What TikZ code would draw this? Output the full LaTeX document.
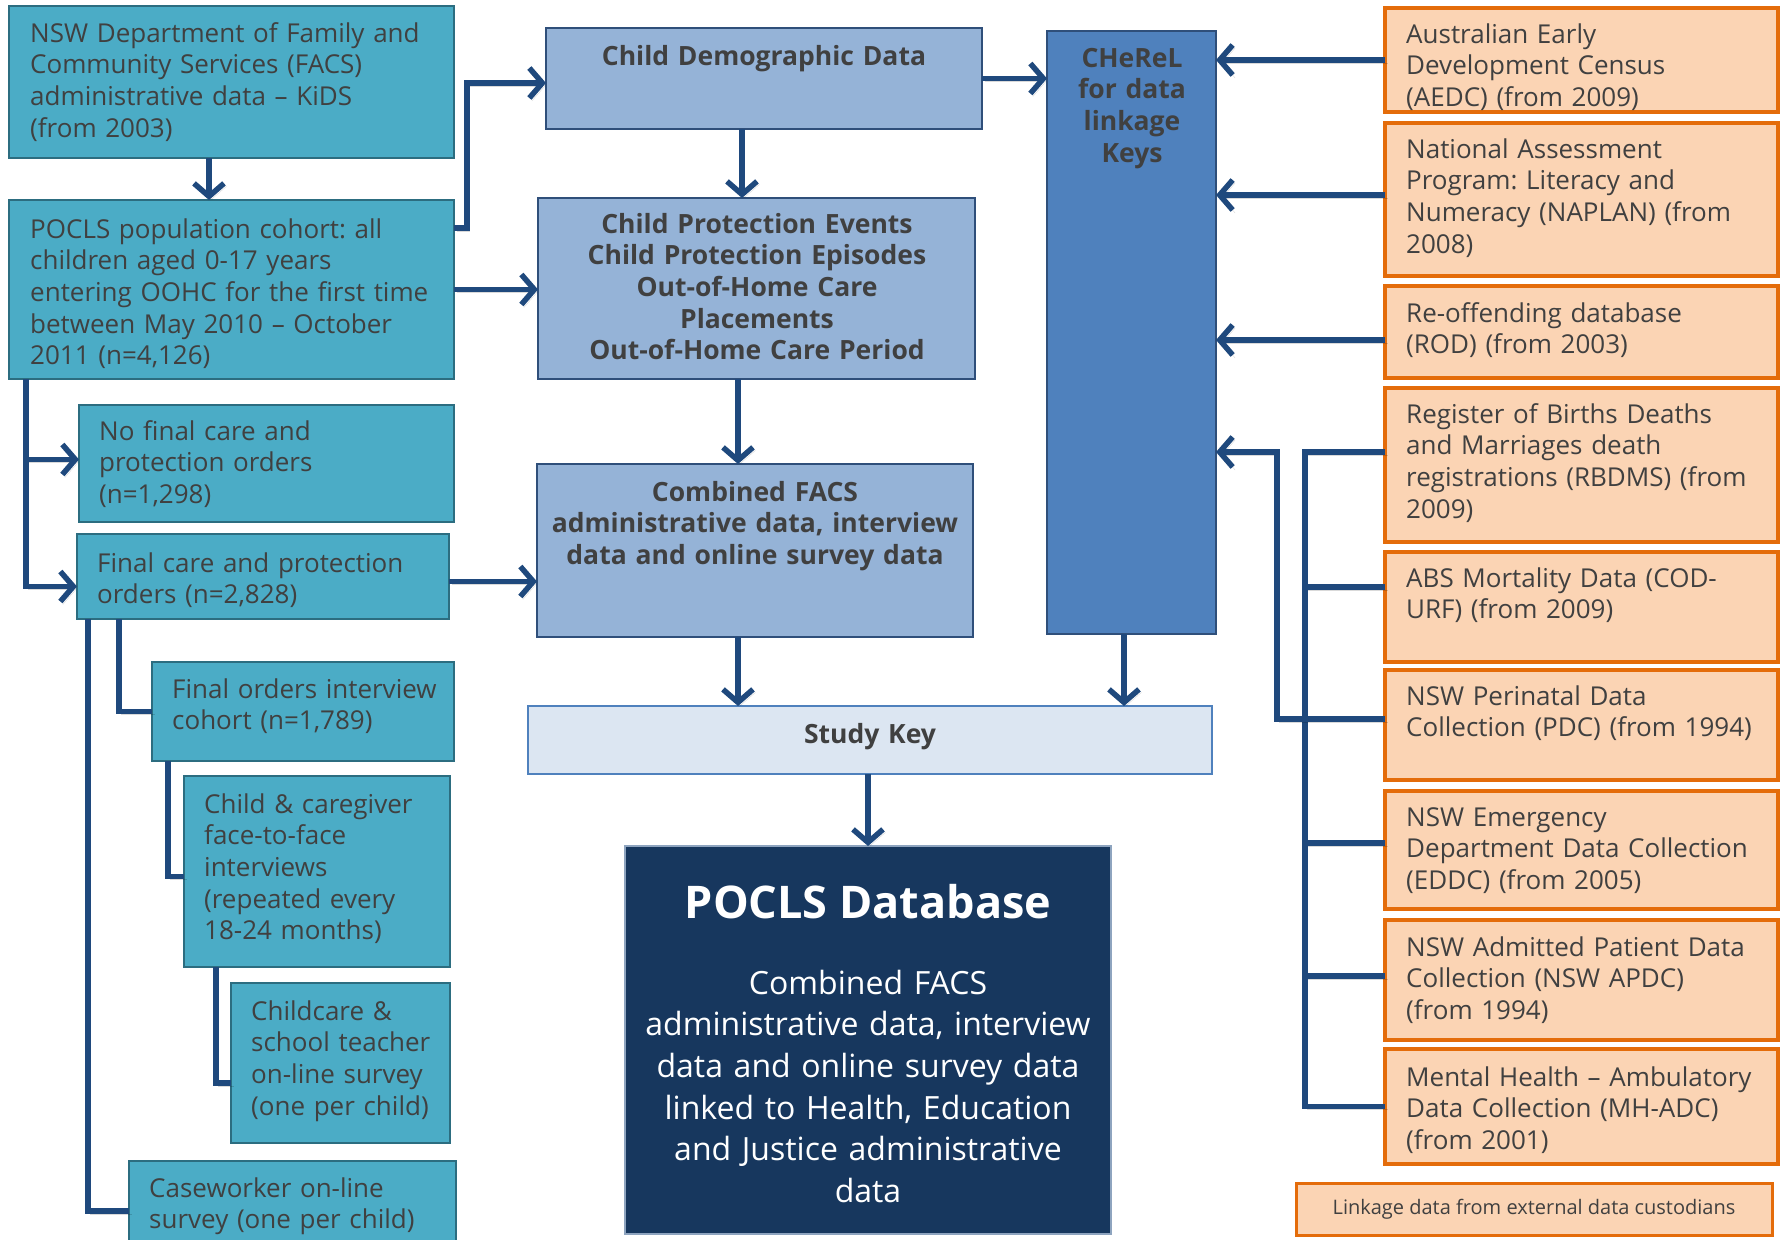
\documentclass[tikz,border=0pt]{standalone}
\usepackage{fontspec}
\setmainfont{Open Sans}
\usetikzlibrary{arrows.meta,fit,calc}
\definecolor{tealF}{HTML}{4BACC6}
\definecolor{tealD}{HTML}{2C6D80}
\definecolor{ltF}{HTML}{95B3D7}
\definecolor{ltD}{HTML}{2F4F7A}
\definecolor{chF}{HTML}{4F81BD}
\definecolor{skF}{HTML}{DCE6F2}
\definecolor{skD}{HTML}{4F81BD}
\definecolor{dbF}{HTML}{17375E}
\definecolor{dbD}{HTML}{8EA4BF}
\definecolor{orF}{HTML}{FBD4B4}
\definecolor{orD}{HTML}{E46C0A}
\definecolor{lineC}{HTML}{1F497D}
\definecolor{txt}{HTML}{404040}
\newcommand\pfbody{\fontsize{26}{31.7}\selectfont\frenchspacing}
\newcommand\pfbold{\fontsize{26.5}{31.7}\selectfont\bfseries\frenchspacing}
\newcommand\pftitle{\fontsize{45}{50}\selectfont\bfseries}
\newcommand\pfdb{\fontsize{32}{41.7}\selectfont\frenchspacing}
\newcommand\pfsmall{\fontsize{20}{24}\selectfont}
\begin{document}
\begin{tikzpicture}[x=1pt,y=-1pt,
  bx/.style={draw, inner sep=0pt, outer sep=0pt, line width=2.5pt},
  tealbox/.style={bx, fill=tealF, draw=tealD},
  ltbox/.style={bx, fill=ltF, draw=ltD},
  chbox/.style={bx, fill=chF, draw=ltD},
  skbox/.style={bx, fill=skF, draw=skD, line width=2pt},
  dbbox/.style={bx, fill=dbF, draw=dbD, line width=1.5pt},
  orbox/.style={bx, fill=orF, draw=orD, line width=3.5pt},
  ltxt/.style={anchor=base west, inner sep=0pt, text width=450pt, align=left, text=txt, font=\pfbody},
  ctxt/.style={anchor=base, inner sep=0pt, text width=440pt, align=center, text=txt, font=\pfbold},
  conn/.style={draw=lineC, line width=5.5pt,
    preaction={draw=black, draw opacity=0.15, transform canvas={xshift=2.5pt,yshift=-3pt}}},
  arr/.style={conn, -{Straight Barb[length=13pt,width=30pt]}}
]
\useasboundingbox (0,0) rectangle (1781,1240);
\clip (0,0) rectangle (1781,1240);
\fill[white] (0,0) rectangle (1781,1240);

% ---------- left column ----------
\node[tealbox, fit={(9,6)(454,158)}] (facs) {};
\node[ltxt] (facsT) at (30,42) {NSW Department of Family and\\Community Services (FACS)\\administrative data – KiDS\\(from 2003)};
\node[tealbox, fit={(9,200)(454,379)}] (cohort) {};
\node[ltxt] (cohortT) at (30,238) {POCLS population cohort: all\\children aged 0-17 years\\entering OOHC for the first time\\between May 2010 – October\\2011 (n=4,126)};
\node[tealbox, fit={(79,405)(454,522)}] (nofinal) {};
\node[ltxt] (nofinalT) at (99,440) {No final care and\\protection orders\\(n=1,298)};
\node[tealbox, fit={(77,534)(449,619)}] (final) {};
\node[ltxt] (finalT) at (97,572) {Final care and protection\\orders (n=2,828)};
\node[tealbox, fit={(152,662)(454,761)}] (fo) {};
\node[ltxt] (foT) at (172,698) {Final orders interview\\cohort (n=1,789)};
\node[tealbox, fit={(184,776)(450,967)}] (cc) {};
\node[ltxt] (ccT) at (204,813) {Child \& caregiver\\face-to-face\\interviews\\(repeated every\\18-24 months)};
\node[tealbox, fit={(231,983)(450,1143)}] (childcare) {};
\node[ltxt] (childcareT) at (251,1020) {Childcare \&\\school teacher\\on-line survey\\(one per child)};
\node[tealbox, fit={(129,1161)(456,1262)}] (case) {};
\node[ltxt] (caseT) at (149,1197) {Caseworker on-line\\survey (one per child)};

% ---------- middle column ----------
\node[ltbox, fit={(546,28)(982,129)}] (cdd) {};
\node[ctxt] (cddT) at (764,65) {Child Demographic Data};
\node[ltbox, fit={(538,198)(975,379)}] (cpe) {};
\node[ctxt] (cpeT) at (757,233) {Child Protection Events\\Child Protection Episodes\\Out-of-Home Care\\Placements\\Out-of-Home Care Period};
\node[ltbox, fit={(537,464)(973,637)}] (comb) {};
\node[ctxt] (combT) at (755,501) {Combined FACS\\administrative data, interview\\data and online survey data};
\node[chbox, fit={(1047,31)(1216,634)}] (cherel) {};
\node[ctxt] (cherelT) at (1132,67) {CHeReL\\for data\\linkage\\Keys};
\node[skbox, fit={(528,706)(1212,774)}] (sk) {};
\node[ctxt] (skT) at (870,743) {Study Key};
\node[dbbox, fit={(625,846)(1111,1234)}] (db) {};
\node[anchor=base, inner sep=0pt, text=white, font=\pftitle] (dbT) at (868,918) {POCLS Database};
\node[anchor=base, inner sep=0pt, text width=470pt, align=center, text=white, font=\pfdb] (dbB) at (868,994) {Combined FACS\\administrative data, interview\\data and online survey data\\linked to Health, Education\\and Justice administrative\\data};

% ---------- right column ----------
\node[orbox, fit={(1385,8)(1778,112)}] (aedc) {};
\node[ltxt] (aedcT) at (1406,43) {Australian Early\\Development Census\\(AEDC) (from 2009)};
\node[orbox, fit={(1385,123)(1778,276)}] (naplan) {};
\node[ltxt] (naplanT) at (1406,158) {National Assessment\\Program: Literacy and\\Numeracy (NAPLAN) (from\\2008)};
\node[orbox, fit={(1385,286)(1778,378)}] (rod) {};
\node[ltxt] (rodT) at (1406,322) {Re-offending database\\(ROD) (from 2003)};
\node[orbox, fit={(1385,388)(1778,542)}] (rbdms) {};
\node[ltxt] (rbdmsT) at (1406,423) {Register of Births Deaths\\and Marriages death\\registrations (RBDMS) (from\\2009)};
\node[orbox, fit={(1385,552)(1778,662)}] (abs) {};
\node[ltxt] (absT) at (1406,587) {ABS Mortality Data (COD-\\URF) (from 2009)};
\node[orbox, fit={(1385,670)(1778,780)}] (pdc) {};
\node[ltxt] (pdcT) at (1406,705) {NSW Perinatal Data\\Collection (PDC) (from 1994)};
\node[orbox, fit={(1385,791)(1778,909)}] (eddc) {};
\node[ltxt] (eddcT) at (1406,826) {NSW Emergency\\Department Data Collection\\(EDDC) (from 2005)};
\node[orbox, fit={(1385,920)(1778,1040)}] (apdc) {};
\node[ltxt] (apdcT) at (1406,956) {NSW Admitted Patient Data\\Collection (NSW APDC)\\(from 1994)};
\node[orbox, fit={(1385,1049)(1778,1164)}] (mh) {};
\node[ltxt] (mhT) at (1406,1086) {Mental Health – Ambulatory\\Data Collection (MH-ADC)\\(from 2001)};
\node[orbox, line width=3pt, fit={(1296,1183)(1772,1235)}] (leg) {};
\node[inner sep=0pt, text=txt, font=\pfsmall] (legT) at (leg.center) {Linkage data from external data custodians};

% ---------- connectors ----------
\draw[arr] (facs.south -| 209,0) -- (cohort.north -| 209,0);
\draw[arr] ($(cohort.north east)+(0,28)$) -- ++(13,0) |- ($(cdd.west)+(0,4.5)$);
\draw[arr] (cohort.east) -- (cohort.east -| cpe.west);
\draw[arr] (cdd.east) -- (cdd.east -| cherel.west);
\draw[arr] ($(cdd.south west)+(196,0)$) -- ($(cpe.north west)+(204,0)$);
\draw[arr] ($(cpe.south west)+(200,0)$) -- ($(comb.north west)+(201,0)$);
\draw[arr] ($(comb.south west)+(201,0)$) -- ($(sk.north west)+(210,0)$);
\draw[arr] ($(cherel.south west)+(77,0)$) -- ($(sk.north west)+(596,0)$);
\draw[arr] (sk.south -| db.north) -- (db.north);

\draw[arr] ($(cohort.south west)+(17,0)$) |- ($(nofinal.west)+(0,-4)$);
\draw[arr] ($(cohort.south west)+(17,0)$) |- ($(final.west)+(0,10)$);
\path ($(final.east)+(0,5)$) coordinate (fe);
\draw[arr] (fe) -- (fe -| comb.west);
\draw[conn] ($(final.south west)+(42,0)$) |- (fo.west);
\draw[conn] ($(final.south west)+(11,0)$) |- ($(case.north west)+(0,50)$);
\draw[conn] ($(fo.south west)+(16,0)$) |- ($(cc.west)+(0,5)$);
\draw[conn] ($(cc.south west)+(32,0)$) |- ($(childcare.west)+(0,20)$);

% right side
\coordinate (busX) at (1305,0);
\coordinate (feed) at (1277,452);
\draw[arr] (aedc.west) -- (aedc.west -| cherel.east);
\path ([yshift=4.5pt]naplan.west) coordinate (nw);
\draw[arr] (nw) -- (nw -| cherel.east);
\path ([yshift=-8pt]rod.west) coordinate (rw);
\draw[arr] (rw) -- (rw -| cherel.east);
\path ([yshift=13pt]rbdms.west) coordinate (rbw);
\draw[conn] (rbw) -- (rbw -| busX) -- (busX |- mh.west) -- (mh.west);
\path ([yshift=20pt]abs.west) coordinate (aw);
\draw[conn] (aw) -- (aw -| busX);
\path ([yshift=7pt]eddc.west) coordinate (ew);
\draw[conn] (ew) -- (ew -| busX);
\path ([yshift=4pt]apdc.west) coordinate (apw);
\draw[conn] (apw) -- (apw -| busX);
\path ([yshift=6pt]pdc.west) coordinate (pw);
\draw[arr] (pw) -| (feed) -- (feed -| cherel.east);
\end{tikzpicture}
\end{document}
